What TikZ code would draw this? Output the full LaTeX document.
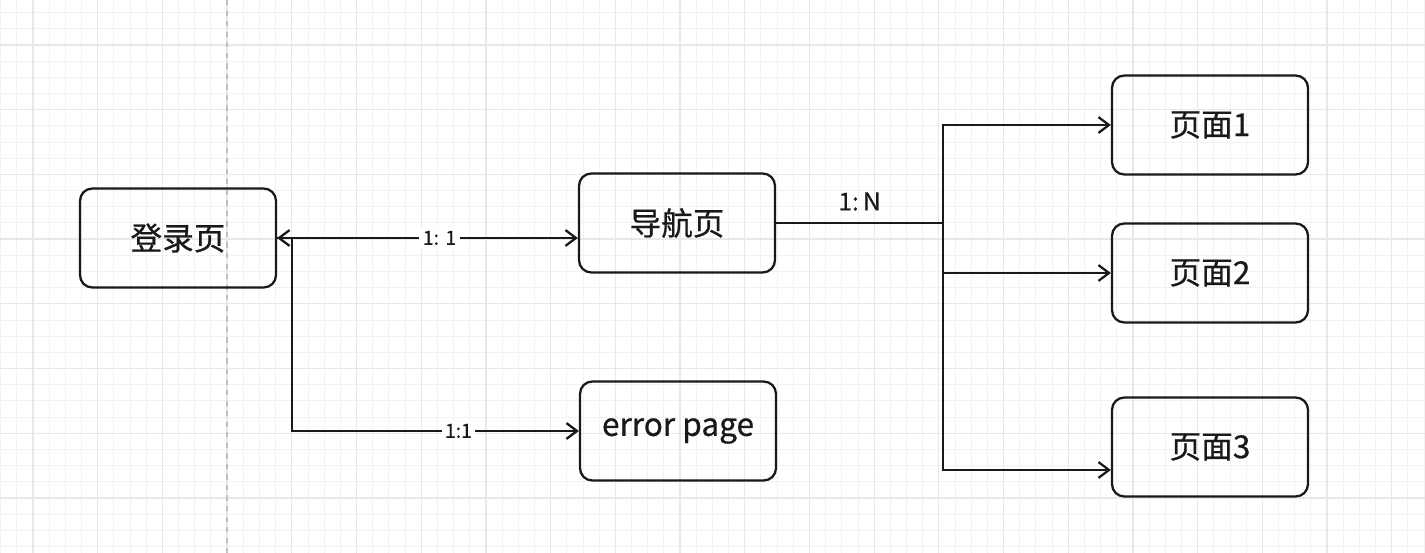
\documentclass[tikz,border=0pt]{standalone}
\usepackage{fontspec}
\setmainfont{Noto Sans CJK SC}
\newfontfamily\boxfont{Noto Sans CJK SC}[FakeBold=0.6]
\usetikzlibrary{arrows.meta}

\begin{document}
\begin{tikzpicture}[x=0.02cm, y=-0.02cm, line width=1.3pt, color={black!90},
	box/.style = {draw, rounded corners=7pt, minimum width=3.92cm, minimum height=1.98cm, font=\boxfont\fontsize{18}{22}\selectfont},
	link/.style = {-{Straight Barb[length=6pt, width=9pt]}},
	both/.style = {{Straight Barb[length=6pt, width=9pt]}-{Straight Barb[length=6pt, width=9pt]}},
	tag/.style = {fill=white, inner sep=2pt, font=\boxfont\fontsize{11}{13}\selectfont},
	minor/.style = {draw=black!5, line width=0.5pt},
	major/.style = {draw=black!9, line width=0.7pt}]
	% canvas
	\useasboundingbox[fill=white] (0,0) rectangle (1425,553);
	\foreach \k in {0,...,88} \draw[minor] ({0.65+16.175*\k},0) -- ++(0,553);
	\foreach \k in {0,...,34} \draw[minor] (0,{12.65+16.175*\k}) -- ++(1425,0);
	\foreach \k in {0,...,21} \draw[major] ({33+64.7*\k},0) -- ++(0,553);
	\foreach \k in {0,...,8} \draw[major] (0,{45+64.7*\k}) -- ++(1425,0);
	\draw[black!25, dashed, line width=0.8pt] (227,0) -- (227,553);

	\node[box] (login) at (178,238) {登录页};
	\node[box] (nav) at (677,223) {导航页};
	\node[box] (err) at (678,431) {error page};
	\node[box] (p1) at (1210,125) {页面1};
	\node[box] (p2) at (1210,273) {页面2};
	\node[box] (p3) at (1210,447) {页面3};
	\coordinate (hub) at (943,223);

	\draw[both] (login.east) -- node[tag, pos=0.54] {1:\,\,1} (login.east -| nav.west);
	\draw[link] (login.east) -- ++(15,0) |- node[tag, pos=0.79] {1:1} (err.west);
	\draw (nav.east) -- node[above=3pt, font=\boxfont\fontsize{14}{16}\selectfont] {1:\,N} (hub);
	\draw[link] (hub) |- (p1.west);
	\draw[link] (hub) |- (p2.west);
	\draw[link] (hub) |- ([yshift=-0.46cm]p3.west);
\end{tikzpicture}
\end{document}
